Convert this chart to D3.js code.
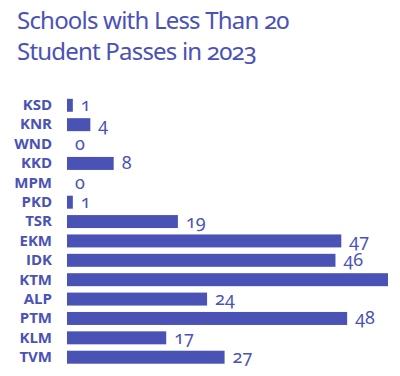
<!DOCTYPE html>
<html>
<head>
<meta charset="utf-8">
<script src="https://d3js.org/d3.v7.min.js"></script>
<style>
  body { margin: 0; background: #fff; }
  svg { display: block; }
</style>
</head>
<body>
<script>
var width = 400, height = 376;
var color = "#4a52b6";

// districts top to bottom, and how many schools fell below 20 passes
var districts = ["KSD", "KNR", "WND", "KKD", "MPM", "PKD", "TSR", "EKM", "IDK", "KTM", "ALP", "PTM", "KLM", "TVM"];
var schools = [1, 4, 0, 8, 0, 1, 19, 47, 46, 55, 24, 48, 17, 27];
var titleLines = ["Schools with Less Than 20", "Student Passes in 2023"];

var data = districts.map(function(d, i) { return {name: d, value: schools[i]}; });

var svg = d3.select("body").append("svg").attr("width", width).attr("height", height);

// title
svg.append("g").selectAll("text")
  .data(titleLines)
  .join("text")
  .attr("x", 17)
  .attr("y", function(d, i) { return 29 + i * 31; })
  .attr("fill", color)
  .style("font-family", "'Noto Sans', sans-serif")
  .style("font-size", "24px")
  .style("letter-spacing", "-0.8px")
  .style("font-variant-numeric", "oldstyle-nums")
  .text(function(d) { return d; });

var x = d3.scaleLinear().domain([0, 55]).range([67, 388]);
var y = d3.scaleBand().domain(districts).range([95.5, 367]).paddingInner(0.33).paddingOuter(0.17);

// category labels
var axis = svg.append("g")
  .attr("transform", "translate(52,0)")
  .call(d3.axisLeft(y).tickSize(0).tickPadding(0));
axis.select(".domain").remove();
axis.selectAll("text")
  .attr("fill", color)
  .attr("font-family", "'Open Sans', sans-serif")
  .attr("font-weight", "700")
  .attr("font-size", "15px");

svg.append("g").selectAll("rect")
  .data(data)
  .join("rect")
  .attr("x", x(0))
  .attr("y", function(d) { return y(d.name); })
  .attr("width", function(d) { return x(d.value) - x(0); })
  .attr("height", y.bandwidth())
  .attr("fill", color);

// value labels (the longest bar's label runs off the picture, so it is left out)
svg.append("g").selectAll("text")
  .data(data.filter(function(d) { return x(d.value) + 8 < width - 12; }))
  .join("text")
  .attr("x", function(d) { return x(d.value) + 8; })
  .attr("y", function(d) { return y(d.name) + y.bandwidth() / 2 + 6; })
  .attr("fill", color)
  .style("font-family", "'Noto Sans', sans-serif")
  .style("font-size", "18px")
  .style("font-variant-numeric", "oldstyle-nums")
  .text(function(d) { return d.value; });
</script>
</body>
</html>
